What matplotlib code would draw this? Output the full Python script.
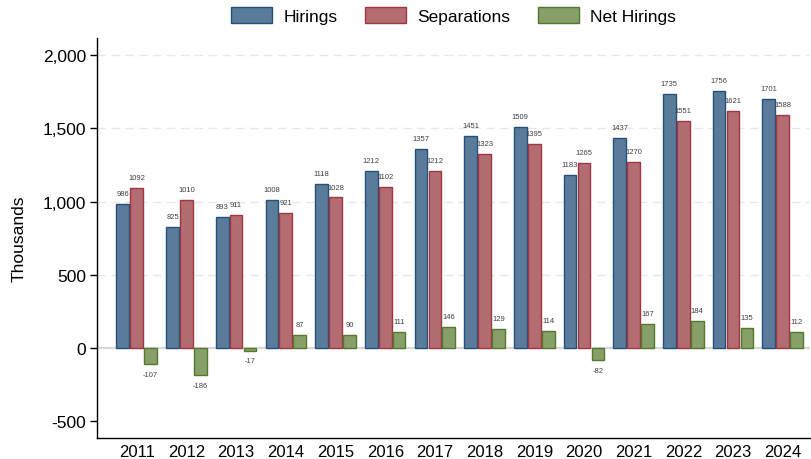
import matplotlib
matplotlib.use("Agg")
import matplotlib.pyplot as plt
from matplotlib.ticker import FuncFormatter
import numpy as np

years = [2011, 2012, 2013, 2014, 2015, 2016, 2017, 2018, 2019, 2020, 2021, 2022, 2023, 2024]
hirings = [986, 825, 893, 1008, 1118, 1212, 1357, 1451, 1509, 1183, 1437, 1735, 1756, 1701]
separations = [1092, 1010, 911, 921, 1028, 1102, 1212, 1323, 1395, 1265, 1270, 1551, 1621, 1588]
net_hirings = [-107, -186, -17, 87, 90, 111, 146, 129, 114, -82, 167, 184, 135, 112]

plt.rcParams['font.family'] = ['Liberation Sans', 'DejaVu Sans']

fig = plt.figure(figsize=(8.11, 4.60), dpi=100)
ax = fig.add_axes([0.1196, 0.0457, 0.8792, 0.8693])

x = np.array(years, dtype=float)
w = 0.255
off = 0.28

series = [
    ("Hirings", hirings, -off, "#5b7b9b", "#24507a"),
    ("Separations", separations, 0.0, "#b26c72", "#a03640"),
    ("Net Hirings", net_hirings, off, "#87a06a", "#54792c"),
]

ax.axhline(0, color="#d8d8d8", lw=1.6, zorder=1)
for yv in [500, 1000, 1500, 2000]:
    ax.axhline(yv, color="#e8e8e8", lw=1.0, ls=(0, (6, 4)), zorder=0)

for name, vals, o, fc, ec in series:
    ax.bar(x + o, vals, width=w, color=fc, edgecolor=ec, linewidth=1.0,
           label=name, zorder=2)
    for xi, v in zip(x + o, vals):
        if v >= 0:
            ax.annotate(f"{v}", (xi, v), xytext=(0, 5), textcoords="offset points",
                        ha="center", va="bottom", fontsize=5.5, color="#404040")
        else:
            ax.annotate(f"{v}", (xi, v), xytext=(0, -5), textcoords="offset points",
                        ha="center", va="top", fontsize=5.5, color="#404040")

ax.set_xlim(2010.2, 2024.55)
ax.set_ylim(-614, 2116)
ax.set_yticks([-500, 0, 500, 1000, 1500, 2000])
ax.yaxis.set_major_formatter(FuncFormatter(lambda v, p: f"{int(v):,}"))
ax.set_xticks(years)
ax.set_xticklabels([str(y) for y in years])
ax.tick_params(axis='x', length=0, labelsize=12, pad=4)
ax.tick_params(axis='y', length=5, width=1, labelsize=12.5, pad=3, color="black")
ax.set_ylabel("Thousands", fontsize=12.5, labelpad=11)

for s in ["top", "right"]:
    ax.spines[s].set_visible(False)
ax.spines["left"].set_linewidth(1.0)
ax.spines["bottom"].set_linewidth(1.0)

leg = ax.legend(loc="center", bbox_to_anchor=(0.5, 1.056), ncol=3, frameon=False,
                fontsize=12.5, handlelength=2.35, handleheight=1.0, columnspacing=1.6,
                handletextpad=0.65, borderpad=0.2)

fig.savefig("out.png", dpi=100)
